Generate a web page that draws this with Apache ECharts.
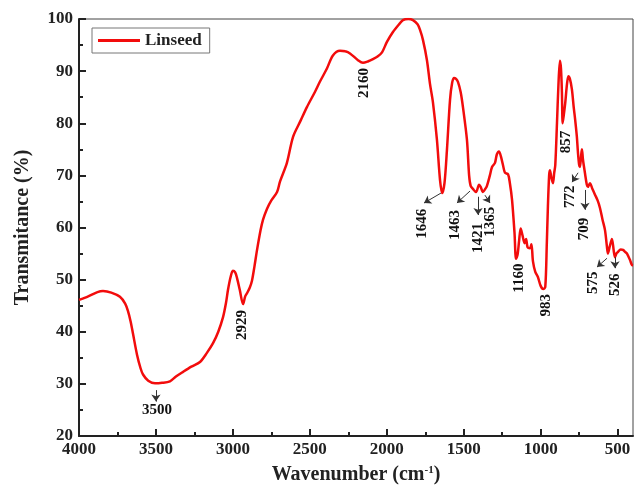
<!DOCTYPE html>
<html>
<head>
<meta charset="utf-8">
<title>FTIR Linseed</title>
<script src="https://cdn.jsdelivr.net/npm/echarts@6/dist/echarts.min.js"></script>
<style>
  html, body { margin: 0; padding: 0; background: #fff; }
  #main { width: 634px; height: 492px; }
</style>
</head>
<body>
<div id="main"></div>
<script type="text/javascript">
// spectrum
var wavenumber = [4000, 3940, 3880, 3844, 3790, 3734, 3700, 3682, 3665, 3649, 3623, 3600, 3584, 3550, 3506, 3460, 3409, 3370, 3324, 3270,
  3214, 3170, 3129, 3095, 3064, 3045, 3032, 3015, 3000, 2985, 2973, 2955, 2934, 2920, 2908, 2890, 2876, 2860, 2843, 2820,
  2804, 2778, 2750, 2713, 2694, 2649, 2609, 2560, 2519, 2467, 2434, 2389, 2350, 2304, 2270, 2239, 2187, 2155, 2120, 2090,
  2060, 2031, 1999, 1960, 1920, 1895, 1860, 1830, 1800, 1784, 1765, 1739, 1719, 1700, 1674, 1654, 1640, 1625, 1609, 1589,
  1575, 1563, 1550, 1537, 1520, 1505, 1479, 1465, 1455, 1440, 1420, 1400, 1390, 1375, 1360, 1349, 1330, 1316, 1297, 1285,
  1271, 1258, 1245, 1232, 1212, 1200, 1186, 1170, 1160, 1150, 1140, 1130, 1118, 1105, 1095, 1085, 1070, 1060, 1050, 1035,
  1018, 1000, 983, 970, 960, 953, 945, 940, 930, 920, 912, 905, 894, 885, 875, 868, 862, 857, 850, 840,
  829, 820, 810, 797, 785, 777, 765, 758, 750, 745, 738, 732, 725, 712, 700, 693, 680, 665, 647, 630,
  615, 598, 582, 570, 563, 550, 537, 525, 517, 508, 498, 480, 465, 450, 439, 420, 407, 400];
var transmittance = [46.1, 46.8, 47.6, 47.8, 47.5, 46.7, 45.4, 44.0, 42.0, 39.6, 35.6, 33.0, 31.8, 30.6, 30.1, 30.2, 30.5, 31.4, 32.3, 33.3,
  34.2, 35.9, 37.8, 40.0, 42.8, 45.5, 48.0, 50.5, 51.7, 51.4, 50.3, 48.0, 45.3, 46.8, 47.4, 48.5, 49.8, 52.5, 55.7, 59.5,
  61.5, 63.6, 65.2, 66.8, 68.8, 72.4, 77.4, 80.5, 83.1, 86.0, 88.0, 90.5, 93.0, 93.9, 93.8, 93.4, 92.1, 91.6, 91.9, 92.3,
  92.8, 93.6, 95.6, 97.5, 99.0, 99.8, 100, 99.8, 99.0, 97.9, 96.0, 92.1, 87.5, 84.0, 76.8, 69.1, 66.6, 68.5, 74.9, 84.5,
  87.8, 88.7, 88.5, 87.9, 86.0, 83.1, 76.8, 70.0, 68.0, 67.4, 66.8, 68.2, 67.8, 66.8, 67.4, 68.0, 70.0, 71.6, 72.4, 74.0,
  74.6, 73.6, 72.0, 70.5, 70.2, 68.5, 65.3, 59.0, 54.0, 54.8, 57.5, 59.8, 58.5, 57.0, 57.8, 56.2, 56.0, 56.8, 53.5, 51.5,
  50.5, 48.8, 48.2, 48.6, 57.0, 64.0, 70.0, 71.0, 69.5, 68.5, 70.5, 72.0, 80.0, 87.0, 92.0, 90.5, 86.0, 80.0, 81.5, 84.0,
  87.5, 89.0, 88.5, 86.5, 83.0, 81.0, 77.5, 74.5, 72.0, 71.6, 73.5, 75.0, 73.0, 70.4, 68.2, 67.8, 68.5, 67.5, 66.3, 65.2,
  63.8, 61.5, 59.5, 56.5, 55.0, 56.5, 57.8, 55.5, 54.3, 55.0, 55.3, 55.8, 55.7, 55.3, 55.0, 53.8, 52.8, 52.7];

var xTicks = [500, 1000, 1500, 2000, 2500, 3000, 3500, 4000];
var xMinorTicks = [750, 1250, 1750, 2250, 2750, 3250, 3750];

// peak annotations: text, anchor (wavenumber, %T)
var peakNames = ['3500', '2929', '2160', '1646', '1463', '1421', '1365', '1160', '983', '857', '772', '709', '575', '526'];
var peakLabelX = [3493, 2941, 2148, 1771, 1557, 1407, 1329, 1141, 965, 835, 809, 718, 660, 517];
var peakLabelY = [25.0, 41.3, 87.7, 60.7, 60.5, 58.0, 61.1, 50.3, 45.1, 76.4, 65.9, 59.7, 49.4, 49.0];
// arrows: from [x, y] to [x, y]
var arrowFrom = [[3500, 28.8], [1648, 66.6], [1459, 67.0], [1407, 65.9], [1362, 66.2], [757, 70.5], [712, 67.2], [569, 54.1], [517, 54.3]];
var arrowTo = [[3500, 26.6], [1758, 64.7], [1544, 64.7], [1407, 62.4], [1329, 64.7], [796, 68.7], [712, 63.4], [634, 52.4], [517, 52.2]];

var font = 'Liberation Serif';

var dom = document.getElementById('main');
var myChart = echarts.init(dom);

var spectrum = wavenumber.map(function (w, i) { return [w, transmittance[i]]; });
var peaks = peakNames.map(function (n, i) {
    var item = { name: n, value: [peakLabelX[i], peakLabelY[i]] };
    if (n === '3500') item.label = { rotate: 0 };
    return item;
});
var arrows = arrowFrom.map(function (a, i) {
    return [{ coord: a, symbol: 'none' }, { coord: arrowTo[i], symbol: 'arrow', symbolSize: 7 }];
});

var option = {
    animation: false,
    grid: {
        left: 79, right: 1, top: 19, bottom: 56,
        show: true, borderColor: '#444', borderWidth: 1
    },
    legend: {
        left: 92, top: 28,
        data: [{ name: 'Linseed', icon: 'rect' }],
        borderColor: '#777', borderWidth: 1,
        padding: [4, 8, 4, 6],
        itemWidth: 42, itemHeight: 3, itemGap: 4,
        textStyle: { fontFamily: font, fontWeight: 'bold', fontSize: 17, color: '#222', lineHeight: 17 }
    },
    xAxis: [
        {
            type: 'value', inverse: true, min: 400, max: 4000,
            name: 'Wavenumber (cm{sup|-1})',
            nameLocation: 'middle', nameGap: 29,
            nameTextStyle: {
                fontFamily: font, fontWeight: 'bold', fontSize: 20, color: '#222',
                rich: { sup: { fontFamily: font, fontWeight: 'bold', fontSize: 11, verticalAlign: 'top', color: '#222' } }
            },
            axisLine: { lineStyle: { color: '#222', width: 2 } },
            axisTick: { inside: true, length: 7, lineStyle: { color: '#222', width: 2 }, customValues: xTicks },
            axisLabel: {
                margin: 5, fontFamily: font, fontWeight: 'bold', fontSize: 17, color: '#222', customValues: xTicks,
                formatter: function (v) { return String(v); }
            },
            splitLine: { show: false }
        },
        {
            type: 'value', inverse: true, min: 400, max: 4000, position: 'bottom',
            axisLine: { show: false },
            axisTick: { inside: true, length: 4, lineStyle: { color: '#222', width: 2 }, customValues: xMinorTicks },
            axisLabel: { show: false },
            splitLine: { show: false }
        }
    ],
    yAxis: {
        type: 'value', min: 20, max: 100, interval: 10,
        name: 'Transmitance (%)',
        nameLocation: 'middle', nameGap: 46,
        nameTextStyle: { fontFamily: font, fontWeight: 'bold', fontSize: 20, color: '#222' },
        axisLine: { show: true, lineStyle: { color: '#222', width: 2 } },
        axisTick: { inside: true, length: 7, lineStyle: { color: '#222', width: 2 } },
        minorTick: { show: true, splitNumber: 2, length: 4, lineStyle: { color: '#222', width: 2 } },
        axisLabel: { margin: 6, fontFamily: font, fontWeight: 'bold', fontSize: 17, color: '#222' },
        splitLine: { show: false }
    },
    series: [
        {
            name: 'Linseed',
            type: 'line',
            data: spectrum,
            symbol: 'none',
            smooth: 0.3,
            color: '#f20c0c',
            lineStyle: { color: '#f20c0c', width: 2.5 },
            z: 3
        },
        {
            name: 'peaks',
            type: 'scatter',
            data: peaks,
            symbolSize: 0,
            itemStyle: { color: '#222' },
            label: {
                show: true, position: 'inside', formatter: '{b}', rotate: 90, opacity: 1,
                fontFamily: font, fontWeight: 'bold', fontSize: 15, color: '#111'
            },
            markLine: {
                silent: true,
                symbol: ['none', 'arrow'],
                symbolSize: 7,
                label: { show: false },
                lineStyle: { color: '#333', width: 1, type: 'solid', opacity: 1 },
                data: arrows
            },
            z: 4
        }
    ]
};

myChart.setOption(option);
</script>
</body>
</html>
